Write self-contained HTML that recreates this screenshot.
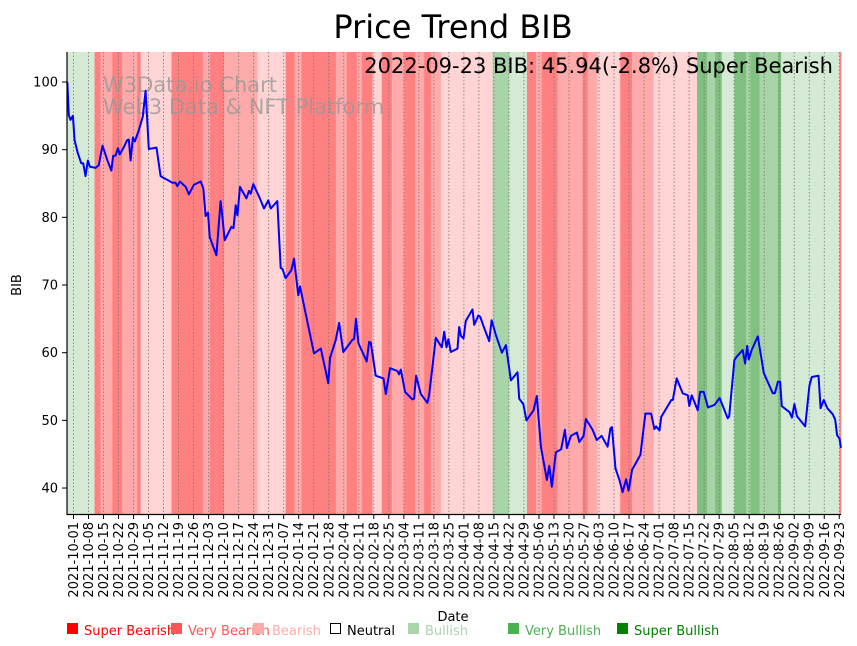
<!DOCTYPE html>
<html><head><meta charset="utf-8"><style>
body{margin:0;background:#fff;}
svg{display:block;font-family:"DejaVu Sans","Liberation Sans",sans-serif;}
</style></head><body>
<svg id="chart" width="857" height="646" viewBox="0 0 857 646" xmlns="http://www.w3.org/2000/svg">
<g id="bands"></g>
<g id="grid"></g>
<text x="103" y="92" font-size="21" fill="#999" fill-opacity="0.8">W3Data.io Chart</text>
<text x="103" y="114" font-size="21" fill="#999" fill-opacity="0.8">Web3 Data &amp; NFT Platform</text>
<polyline id="line" fill="none" stroke="#0000ff" stroke-width="2" stroke-linejoin="round"/>
<text x="833" y="73" font-size="21" text-anchor="end" fill="#000">2022-09-23 BIB: 45.94(-2.8%) Super Bearish</text>
<line x1="67" y1="52" x2="67" y2="514.5" stroke="#000" stroke-width="1.2"/>
<line x1="66.5" y1="514.5" x2="841" y2="514.5" stroke="#000" stroke-width="1.2"/>
<g id="yticks"></g>
<g id="xticks"></g>
<text x="453" y="38" font-size="32" text-anchor="middle" fill="#000">Price Trend BIB</text>
<text x="21" y="285" font-size="13" text-anchor="middle" transform="rotate(-90 21 285)">BIB</text>
<text x="453" y="621" font-size="13" text-anchor="middle">Date</text>
<g font-size="13">
 <g><rect x="67" y="623" width="11" height="11" fill="#ff0000"/><text x="84" y="635" fill="#ff0000">Super Bearish</text></g>
 <g><rect x="171" y="623" width="11" height="11" fill="#ff5555"/><text x="188" y="635" fill="#ff5555">Very Bearish</text></g>
 <g><rect x="253" y="623" width="11" height="11" fill="#ffaaaa"/><text x="272" y="635" fill="#ffaaaa">Bearish</text></g>
 <g><rect x="330.5" y="623.5" width="10" height="10" fill="#fff" stroke="#000"/><text x="347" y="635" fill="#000">Neutral</text></g>
 <g><rect x="408" y="623" width="11" height="11" fill="#aad4aa"/><text x="425" y="635" fill="#aad4aa">Bullish</text></g>
 <g><rect x="508" y="623" width="11" height="11" fill="#4caf50"/><text x="525" y="635" fill="#4caf50">Very Bullish</text></g>
 <g><rect x="617" y="623" width="11" height="11" fill="#008000"/><text x="634" y="635" fill="#008000">Super Bullish</text></g>
</g>
</svg>
<script>
// days since 2021-10-01
const priceDays=[-2.9,-2.2,-1.4,-0.3,0.5,2,3.6,4.5,5.6,6.7,7.6,10.3,11.8,13.5,15.7,17.6,18.5,19.6,20.7,21.6,23.5,25,25.8,26.6,27.7,28.6,30.5,32.3,33.6,35.1,38.7,40.6,42.2,44.5,46.1,47.6,48.4,49.6,52.3,53.8,56.1,59.3,60.5,61.6,62.7,63.5,66.6,68.6,69.4,70.5,73.6,74.6,75.6,76.4,77.6,80.6,81.8,82.6,83.8,86.5,88.8,90.8,92,95,96.6,97.4,98.9,101.6,102.8,104.8,105.6,112.1,115.3,118.8,119.6,122.3,123.8,125.8,130,130.8,131.7,132.8,136.7,137.8,138.6,140.9,144.5,145.6,147.6,151,151.8,152.6,154.6,158,158.8,159.7,161.9,165,165.8,168.9,171.7,172.8,173.9,174.8,175.9,179,179.8,180.6,181.8,182.9,186,186.8,188.7,189.6,191.5,193.8,194.9,196.9,199.7,201.6,203.9,207,207.8,209.7,211.2,214.5,216,217.9,220.7,221.8,223,224.9,227.3,229.1,230,231.9,234.7,235.8,237.8,238.9,242,243.9,246.2,249,250.3,251,252.7,254.5,256,257.6,258.8,260.4,264.3,266.6,269.3,270.8,271.6,273.2,274,278.7,279.4,281.2,284,286.4,287.1,288.2,291,292.1,293.8,295.8,298.9,301.2,305,305.7,308.1,309.2,312,313.1,314.1,314.8,316.2,319,321.8,326,327,328.4,329.4,330.2,333.8,334.9,336.1,337.3,341.1,343.1,344.2,347.3,348.3,349.8,351.4,354,355.1,356,357.1,358.2];
const priceValues=[100,95.1,94.4,95,91.4,89.5,88,88,86.1,88.4,87.5,87.3,87.7,90.6,88.5,86.9,89.1,89.1,90.2,89.3,90.4,91.4,91.5,88.4,91.8,91.2,92.9,94.9,98.7,90.1,90.3,86.1,85.8,85.4,85.1,85.1,84.6,85.3,84.5,83.4,84.8,85.3,84.3,80.2,80.7,77.1,74.4,82.4,80.1,76.6,78.6,78.4,81.8,80.3,84.5,82.8,83.9,83.5,84.9,83.1,81.3,82.5,81.3,82.4,72.5,72.4,71,72.2,73.9,68.5,69.8,59.9,60.6,55.5,59.2,61.9,64.4,60.1,61.9,62,65,61.4,58.7,61.6,61.5,56.6,56.2,53.9,57.7,57.3,56.8,57.5,54.2,53.1,53.2,56.6,53.9,52.6,53.7,62.2,60.8,63.1,60.8,62,60.1,60.6,63.8,62.5,62.1,64.7,66.4,64.1,65.5,65.3,63.6,61.7,64.8,62.6,60,61.1,55.9,57.1,53.2,52.4,50,51.5,53.6,46.1,41.2,43.3,40.2,45.3,45.7,48.6,45.9,47.7,48.2,46.8,47.7,50.2,48.6,47.1,47.7,46.1,48.8,49,42.9,41.2,39.4,41.3,39.6,42.7,44.9,51,51,48.7,49.1,48.5,50.5,53,53,56.2,54,53.7,52.1,53.7,51.5,54.2,54.2,51.9,52.3,53.3,50.3,50.6,58.9,59.4,60.4,58.4,61,59,60.4,62.4,57,54,54,55.7,55.7,52.1,51.2,50.4,52.4,50.6,49.1,55.1,56.4,56.6,51.8,53,51.8,50.9,50.1,47.8,47.3,45.94];
// sentiment bands: start day, end day, level (0 super bearish .. 6 super bullish)
const bandStarts=[-3,9.8,12.6,18.1,22.7,29.7,31.3,45.7,60.3,63.5,70.1,85.7,98.9,103.1,106.3,122.3,127.4,132.1,134.4,139.4,143.7,148.4,154.1,159.3,163.5,166.6,171.3,195.4,203.1,211.4,215.6,218.2,225.7,237.4,239.7,244.3,254.9,260.4,270.5,290.7,295.4,299.1,302.2,308.1,313.6,315.6,319.8,328.4,329.9,357.1];
const bandEnds=[9.8,12.6,18.1,22.7,29.7,31.3,45.7,60.3,63.5,70.1,85.7,98.9,103.1,106.3,122.3,127.4,132.1,134.4,139.4,143.7,148.4,154.1,159.3,163.5,166.6,171.3,195.4,203.1,211.4,215.6,218.2,225.7,237.4,239.7,244.3,254.9,260.4,270.5,290.7,295.4,299.1,302.2,308.1,313.6,315.6,319.8,328.4,329.9,357.1,358.8];
const bandLevels=[4,0,1,0,1,0,2,0,1,0,1,2,0,1,0,1,0,1,0,2,0,1,0,1,0,1,2,5,4,0,1,0,1,0,1,2,0,1,2,6,5,6,4,6,5,6,5,6,4,0];
const yTicks=[40,50,60,70,80,90,100];
const levelColors=['#ff8080','#ffaaaa','#ffd4d4','#ffffff','#d4ead4','#a8d4a8','#80c080'];

const NS='http://www.w3.org/2000/svg';
const X=d=>73.5+d*2.145;
const Y=v=>82+(100-v)*6.767;
const clampX=x=>Math.max(67,Math.min(841,x));
function mk(tag,attrs,parent){const e=document.createElementNS(NS,tag);for(const k in attrs)e.setAttribute(k,attrs[k]);parent.appendChild(e);return e;}
const bands=document.getElementById('bands');
bandStarts.forEach((s,i)=>{
  const x1=clampX(X(s)),x2=clampX(X(bandEnds[i]));
  const r=mk('rect',{x:x1,y:52,width:Math.max(0,x2-x1+0.3),height:462.5,fill:levelColors[bandLevels[i]]},bands);
  
  
});
const grid=document.getElementById('grid'),xt=document.getElementById('xticks');
const start=new Date(Date.UTC(2021,9,1));
for(let d=0;d<=357;d+=7){
  const x=X(d);
  const g=mk('line',{x1:x,y1:52,x2:x,y2:514,stroke:'#777','stroke-width':0.8,'stroke-dasharray':'1.5,2'},grid);
  
  
  mk('line',{x1:x,y1:514,x2:x,y2:519,stroke:'#000','stroke-width':1},xt);
  const dt=new Date(start.getTime()+d*86400000);
  const t=mk('text',{x:0,y:0,'font-size':13,'text-anchor':'end',transform:`translate(${x+4.5},522) rotate(-90)`},xt);
  t.textContent=dt.toISOString().slice(0,10);
  
  
}
const yt=document.getElementById('yticks');
yTicks.forEach(v=>{
  const y=Y(v);
  mk('line',{x1:62,y1:y,x2:67,y2:y,stroke:'#000','stroke-width':1},yt);
  const t=mk('text',{x:58,y:y+4.5,'font-size':13,'text-anchor':'end'},yt);
  t.textContent=v;
  
  
});
document.getElementById('line').setAttribute('points',priceDays.map((d,i)=>`${clampX(X(d)).toFixed(1)},${Y(priceValues[i]).toFixed(1)}`).join(' '));
</script>
</body></html>
